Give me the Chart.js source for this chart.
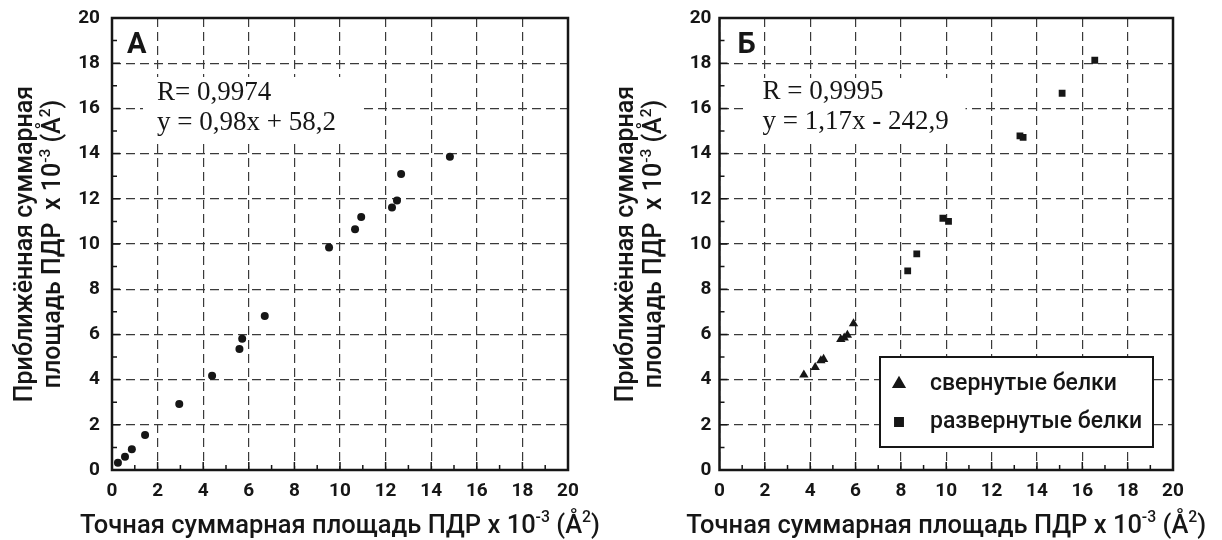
<!DOCTYPE html>
<html>
<head>
<meta charset="utf-8">
<script src="https://cdn.jsdelivr.net/npm/chart.js@4.4.1/dist/chart.umd.min.js"></script>
<style>
  body { margin: 0; background: #fff; width: 1222px; height: 540px; overflow: hidden; position: relative; }
  canvas { position: absolute; top: 0; }
</style>
</head>
<body>
<canvas id="chartA" width="611" height="540" style="left:0"></canvas>
<canvas id="chartB" width="611" height="540" style="left:611px"></canvas>
<script>
// --- données (x 10^-3 Å²) ---
const tickValues = [0, 2, 4, 6, 8, 10, 12, 14, 16, 18, 20];

// panneau А : tous les résidus
const exactA  = [0.26, 0.57, 0.87, 1.45, 2.95, 4.39, 5.59, 5.71, 6.70, 9.52, 10.66, 10.93, 12.28, 12.50, 12.68, 14.82];
const approxA = [0.32, 0.59, 0.92, 1.55, 2.92, 4.17, 5.35, 5.81, 6.81, 9.84, 10.65, 11.19, 11.62, 11.93, 13.10, 13.86];

// panneau Б : protéines repliées / dépliées
const foldedX   = [3.72, 4.22, 4.47, 4.59, 5.35, 5.50, 5.64, 5.91];
const foldedY   = [4.21, 4.54, 4.84, 4.90, 5.78, 5.85, 5.97, 6.48];
const unfoldedX = [8.30, 8.70, 9.85, 10.10, 13.25, 13.39, 15.11, 16.55];
const unfoldedY = [8.81, 9.56, 11.14, 11.00, 14.78, 14.72, 16.67, 18.13];

const seriesLabels = ['свернутые белки', 'развернутые белки'];
const statsA = ['R= 0,9974', 'y = 0,98x + 58,2'];
const statsB = ['R = 0,9995', 'y = 1,17x - 242,9'];

const xTitle  = [['Точная суммарная площадь ПДР x 10'], ['-3', true], [' (Å'], ['2', true], [')']];
const yTitle1 = [['Приближённая суммарная']];
const yTitle2 = [['площадь ПДР  x 10'], ['-3', true], [' (Å'], ['2', true], [')']];

const toPoints = (xs, ys) => xs.map((x, i) => ({ x, y: ys[i] }));

const INK = '#161616';
const SANS = 'Roboto, "Liberation Sans", Arial, sans-serif';
const SERIF = '"Liberation Serif", "Times New Roman", serif';

// texte avec exposants, centré sur x
function richText(ctx, parts, x, y, size) {
  const fontFor = sup => `500 ${sup ? size * 0.62 : size}px ${SANS}`;
  let w = 0;
  parts.forEach(([t, sup]) => { ctx.font = fontFor(sup); w += ctx.measureText(t).width; });
  let cx = x - w / 2;
  ctx.textAlign = 'left';
  ctx.textBaseline = 'alphabetic';
  parts.forEach(([t, sup]) => {
    ctx.font = fontFor(sup);
    ctx.fillText(t, cx, sup ? y - size * 0.42 : y);
    cx += ctx.measureText(t).width;
  });
}

// cadre, petites graduations, titres, encart
const decor = {
  id: 'decor',
  beforeDatasetsDraw(chart, args, o) {
    const { ctx, chartArea: a, scales: { x, y } } = chart;
    ctx.save();
    // encart blanc pour les statistiques
    ctx.fillStyle = '#fff';
    ctx.fillRect(a.left + o.box[0], o.box[1], o.box[2], o.box[3]);
    // cadre
    ctx.strokeStyle = INK;
    ctx.lineWidth = 2.5;
    ctx.strokeRect(a.left, a.top, a.right - a.left, a.bottom - a.top);
    // graduations internes
    ctx.lineWidth = 1.5;
    ctx.beginPath();
    for (let v = 1; v < 20; v++) {
      const len = v % 2 ? 5 : 8;
      const px = x.getPixelForValue(v), py = y.getPixelForValue(v);
      ctx.moveTo(px, a.bottom); ctx.lineTo(px, a.bottom - len);
      ctx.moveTo(a.left, py); ctx.lineTo(a.left + len, py);
    }
    ctx.stroke();
    // lettre du panneau
    ctx.fillStyle = INK;
    ctx.font = `bold 29px ${SANS}`;
    ctx.textAlign = 'left';
    ctx.textBaseline = 'alphabetic';
    ctx.fillText(o.letter, a.left + o.letterX, 53);
    // statistiques
    ctx.font = `27px ${SERIF}`;
    ctx.fillText(o.stats[0], a.left + o.statsX, o.statsY);
    ctx.fillText(o.stats[1], a.left + o.statsX, o.statsY + 30);
    // titres des axes
    richText(ctx, xTitle, (a.left + a.right) / 2, 533, 25.5);
    const cy = (a.top + a.bottom) / 2;
    ctx.translate(o.yTitleX, cy);
    ctx.rotate(-Math.PI / 2);
    richText(ctx, yTitle1, 0, 0, 25);
    richText(ctx, yTitle2, 0, 28, 25);
    ctx.restore();
  },
  afterDatasetsDraw(chart, args, o) {
    if (!o.legend) return;
    const { ctx, chartArea: a } = chart;
    const [lx, ly, lw, lh] = o.legend;
    ctx.save();
    ctx.fillStyle = '#fff';
    ctx.fillRect(a.left + lx, ly, lw, lh);
    ctx.strokeStyle = INK;
    ctx.lineWidth = 2;
    ctx.strokeRect(a.left + lx, ly, lw, lh);
    chart.data.datasets.forEach((ds, i) => {
      const rowY = ly + 27 + i * 38;
      ctx.fillStyle = INK;
      ctx.strokeStyle = INK;
      Chart.helpers.drawPoint(ctx, { pointStyle: ds.pointStyle, radius: ds.pointRadius + 0.8, borderWidth: 1 }, a.left + lx + 19, rowY);
      ctx.font = `500 23px ${SANS}`;
      ctx.textAlign = 'left';
      ctx.textBaseline = 'middle';
      ctx.fillText(ds.label, a.left + lx + 50, rowY);
    });
    ctx.restore();
  }
};

function axis(padding) {
  return {
    type: 'linear',
    min: 0,
    max: 20,
    afterBuildTicks: s => { s.ticks = tickValues.map(v => ({ value: v })); },
    grid: { color: '#3a3a3a', lineWidth: 1.2, drawTicks: false },
    border: { display: false, dash: [9, 5] },
    ticks: { color: INK, padding, font: { family: SANS, size: 19, weight: 'bold' } }
  };
}

function makeChart(id, datasets, leftW, rightPad, tickPadY, decorOpts) {
  const yAxis = axis(tickPadY);
  yAxis.afterFit = s => { s.width = leftW; s.paddingTop = 0; s.paddingBottom = 0; };
  const xAxis = axis(10);
  xAxis.afterFit = s => { s.height = 70; s.paddingLeft = 0; s.paddingRight = 0; };
  return new Chart(document.getElementById(id), {
    type: 'scatter',
    data: { datasets },
    options: {
      responsive: false,
      devicePixelRatio: 1,
      animation: false,
      layout: { padding: { top: 18, right: rightPad, left: 0, bottom: 0 } },
      scales: { x: xAxis, y: yAxis },
      plugins: { legend: { display: false }, tooltip: { enabled: false }, decor: decorOpts }
    },
    plugins: [decor]
  });
}

makeChart('chartA', [{
  label: 'А',
  data: toPoints(exactA, approxA),
  pointStyle: 'circle',
  pointRadius: 4,
  backgroundColor: INK,
  borderColor: INK,
  borderWidth: 0
}], 112, 43, 12, {
  letter: 'А', letterX: 15, stats: statsA, statsX: 45, statsY: 100,
  box: [31, 77, 218, 66], yTitleX: 32
});

makeChart('chartB', [{
  label: seriesLabels[0],
  data: toPoints(foldedX, foldedY),
  pointStyle: 'triangle',
  pointRadius: 5.4,
  backgroundColor: INK,
  borderColor: INK,
  borderWidth: 0
}, {
  label: seriesLabels[1],
  data: toPoints(unfoldedX, unfoldedY),
  pointStyle: 'rect',
  pointRadius: 4.8,
  backgroundColor: INK,
  borderColor: INK,
  borderWidth: 0
}], 108.5, 49, 8, {
  letter: 'Б', letterX: 18, stats: statsB, statsX: 43, statsY: 99,
  box: [24, 78, 222, 65], yTitleX: 22, legend: [160.5, 357, 273, 90]
});
</script>
</body>
</html>
